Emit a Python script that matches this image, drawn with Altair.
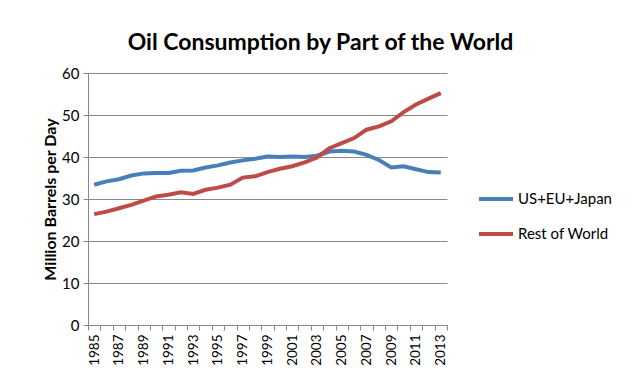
import altair as alt
import pandas as pd

years = list(range(1985, 2014))
us_eu_japan = [33.4, 34.2, 34.7, 35.6, 36.1, 36.2, 36.2, 36.7, 36.8, 37.5,
               38.0, 38.7, 39.2, 39.6, 40.1, 40.0, 40.1, 40.0, 40.3, 41.3,
               41.5, 41.3, 40.5, 39.3, 37.5, 37.8, 37.1, 36.4, 36.3]
rest_of_world = [26.4, 27.0, 27.8, 28.6, 29.6, 30.6, 31.0, 31.6, 31.2, 32.2,
                 32.7, 33.4, 35.1, 35.4, 36.4, 37.2, 37.8, 38.7, 39.9, 42.1,
                 43.3, 44.5, 46.5, 47.3, 48.5, 50.7, 52.5, 53.9, 55.2]
series_names = ["US+EU+Japan", "Rest of World"]
colors = ["#4A7EBB", "#BE4B48"]

df = pd.DataFrame({
    "Year": years * 2,
    "Value": us_eu_japan + rest_of_world,
    "Series": [series_names[0]] * len(years) + [series_names[1]] * len(years),
})

tick_vals = [y - 0.5 for y in years] + [years[-1] + 0.5]
FONT = "Lato"

chart = alt.Chart(df).mark_line(strokeWidth=4).encode(
    x=alt.X("Year:Q",
            scale=alt.Scale(domain=[1984.5, 2013.5], nice=False, zero=False),
            axis=alt.Axis(values=tick_vals, grid=False, title=None,
                          labelAngle=-90, labelAlign="right", labelBaseline="middle",
                          labelExpr="(datum.value + 0.5) % 2 == 1 ? toString(datum.value + 0.5) : ''",
                          labelOffset=6, labelOverlap=False, labelPadding=4,
                          labelFontSize=13.5, labelColor="#000000",
                          domainColor="#888888", tickColor="#888888", tickSize=5)),
    y=alt.Y("Value:Q",
            scale=alt.Scale(domain=[0, 60], nice=False),
            axis=alt.Axis(values=[0, 10, 20, 30, 40, 50, 60],
                          title="Million Barrels per Day",
                          titleFontSize=16, titleFontWeight="bold", titleColor="#000000",
                          titlePadding=3,
                          labelFontSize=15, labelColor="#000000", labelPadding=4,
                          gridColor="#888888", domainColor="#888888",
                          tickColor="#888888", tickSize=5)),
    color=alt.Color("Series:N",
                    scale=alt.Scale(domain=series_names, range=colors),
                    legend=alt.Legend(title=None, orient="none",
                                      legendX=389, legendY=107,
                                      symbolType="stroke", symbolSize=1156,
                                      symbolStrokeWidth=4, labelFontSize=15,
                                      labelColor="#000000", rowPadding=8,
                                      labelOffset=3)),
).properties(
    width=359,
    height=252,
    title=alt.TitleParams("Oil Consumption by Part of the World",
                          fontSize=23, fontWeight="bold", font=FONT,
                          anchor="middle", dx=53, offset=11, color="#000000"),
    autosize=alt.AutoSizeParams(type="none"),
    padding={"left": 80, "top": 65, "right": 185, "bottom": 50},
).configure(
    font=FONT,
    background="white",
).configure_view(stroke=None)

chart.save("out.html", embed_options={"renderer": "svg", "actions": False})
